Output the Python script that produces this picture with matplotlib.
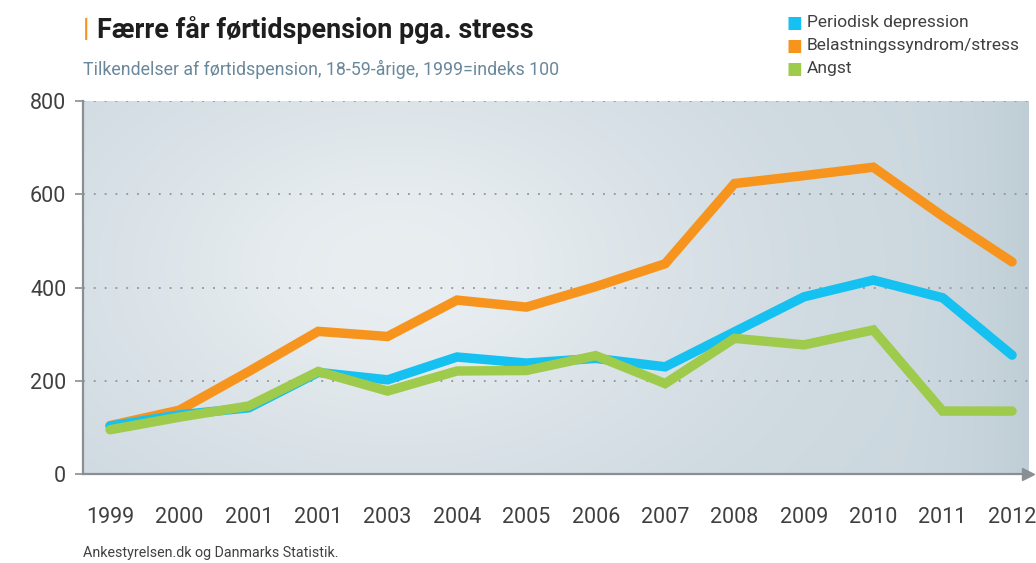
import numpy as np
import matplotlib.pyplot as plt
from matplotlib.colors import to_rgb

plt.rcParams['font.family'] = ['Roboto', 'DejaVu Sans']

# data
years = ["1999", "2000", "2001", "2001", "2003", "2004", "2005", "2006",
         "2007", "2008", "2009", "2010", "2011", "2012"]
depression = [103, 127, 142, 218, 202, 251, 238, 248, 230, 305, 380, 416, 378, 255]
stress = [104, 137, 220, 306, 295, 373, 358, 402, 451, 623, 640, 658, 553, 455]
angst = [95, 122, 146, 220, 178, 221, 222, 254, 194, 291, 277, 309, 135, 135]

series_names = ["Periodisk depression", "Belastningssyndrom/stress", "Angst"]
series_colors = ["#15c1f0", "#f7941d", "#9ecb4c"]

fig = plt.figure(figsize=(10.36, 5.63), dpi=100)
ax = fig.add_axes([0.0801, 0.158, 0.9122, 0.6626])

x = np.arange(len(years))

# soft grey-blue background
gx, gy = np.meshgrid(np.linspace(0, 1, 300), np.linspace(0, 1, 200))
light = np.exp(-((gx - 0.33) ** 2 / 0.12 + (gy - 0.55) ** 2 / 0.35))
dark = np.clip((gx - 0.85) / 0.15, 0, 1) ** 2 * 0.5
base = np.array(to_rgb("#cbd7de"))
hi = np.array(to_rgb("#e9eef1"))
lo = np.array(to_rgb("#b3c5ce"))
img = base[None, None, :] * (1 - light[..., None]) + hi[None, None, :] * light[..., None]
img = img * (1 - dark[..., None]) + lo[None, None, :] * dark[..., None]
ax.imshow(img, extent=[0, 1, 0, 1], transform=ax.transAxes, aspect="auto",
          origin="lower", zorder=0)

# dotted grid
for v in [200, 400, 600, 800]:
    ax.axhline(v, color="#8f9599", lw=1.3, ls=(0, (1, 5)), zorder=1)

for vals, col in [(stress, series_colors[1]), (depression, series_colors[0]),
                  (angst, series_colors[2])]:
    ax.plot(x, vals, color=col, lw=6.8, solid_capstyle="round",
            solid_joinstyle="miter", zorder=3)

ax.set_xlim(-0.39, 13.23)
ax.set_ylim(0, 800)
ax.set_yticks([0, 200, 400, 600, 800])
ax.set_xticks(x)
ax.set_xticklabels(years)

for s in ["top", "right"]:
    ax.spines[s].set_visible(False)
for s in ["left", "bottom"]:
    ax.spines[s].set_color("#8a8f93")
    ax.spines[s].set_linewidth(1.6)
ax.plot(1.0, 0, ">", transform=ax.transAxes, clip_on=False, color="#8a8f93",
        ms=8, zorder=5)

ax.tick_params(axis="y", length=6, width=1.2, color="#8a8f93", pad=6,
               labelsize=15.5, labelcolor="#404040")
ax.tick_params(axis="x", length=0, pad=24, labelsize=15.5, labelcolor="#404040")

# titles
fig.text(0.080, 0.947, "|", color="#f7941d", fontsize=18, fontweight="bold",
         va="center")
fig.text(0.094, 0.947, "Færre får førtidspension pga. stress", color="#1e1e1e",
         fontsize=19.4, fontweight="bold", va="center")
fig.text(0.080, 0.877, "Tilkendelser af førtidspension, 18-59-årige, 1999=indeks 100",
         color="#6a889b", fontsize=12.8, va="center")
fig.text(0.080, 0.018, "Ankestyrelsen.dk og Danmarks Statistik.", color="#404040",
         fontsize=10.3, va="center")

# legend
for i, (name, col) in enumerate(zip(series_names, series_colors)):
    yy = 0.960 - i * 0.041
    fig.text(0.759, yy, "■", color=col, fontsize=12, va="center",
             family=["DejaVu Sans"])
    fig.text(0.779, yy, name, color="#404040", fontsize=12.5, va="center")

fig.savefig("out.png", dpi=100)
